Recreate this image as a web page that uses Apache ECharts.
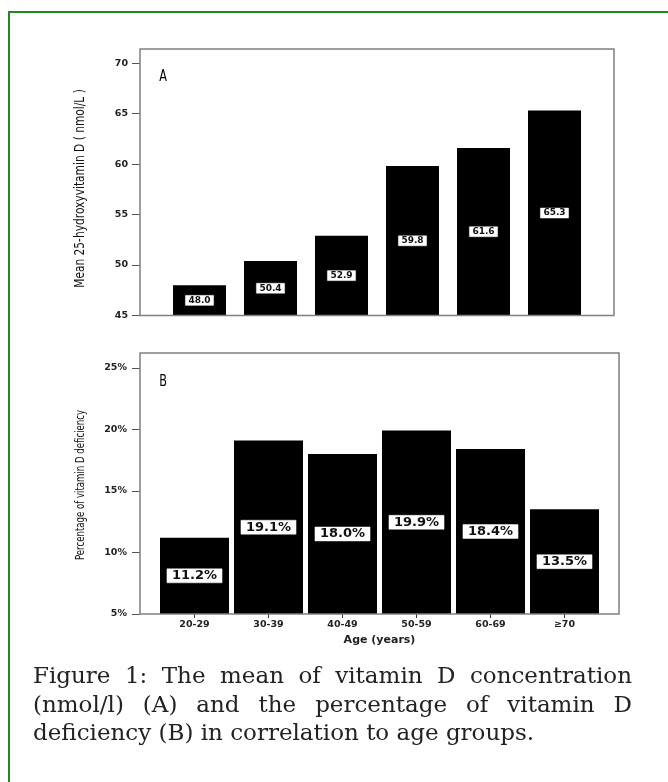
<!DOCTYPE html>
<html>
<head>
	<meta charset="UTF-8" />
	<title>Vitamin D by age group</title>
	<style>
		html, body { margin: 0; padding: 0; background: #fff; }
		#frame {
			position: absolute; left: 8px; top: 11px; width: 700px; height: 800px;
			border-left: 2.5px solid #1c8c1c; border-top: 2.5px solid #1c8c1c;
		}
		#chart { position: absolute; left: 0; top: 0; width: 668px; height: 782px; }
		#caption {
			position: absolute; left: 33px; top: 661px; width: 599px; margin: 0;
			font-family: "DejaVu Serif", serif; font-size: 23px; line-height: 28.5px;
			color: #222; white-space: nowrap;
		}
		#caption span { display: block; }
		#caption .full { text-align: justify; text-align-last: justify; }
	</style>
</head>
<body>
	<div id="frame"></div>
	<div id="chart"></div>
	<p id="caption"><span class="full">Figure 1: The mean of vitamin D concentration</span><span class="full">(nmol/l) (A) and the percentage of vitamin D</span><span>deficiency (B) in correlation to age groups.</span></p>
	<script src="https://cdn.jsdelivr.net/npm/echarts@6/dist/echarts.min.js"></script>
	<script>
		// age groups (x axis of both panels)
		const ageGroups = ["20-29", "30-39", "40-49", "50-59", "60-69", "\u226570"];
		// panel A: mean 25-hydroxyvitamin D (nmol/L)
		const meanVitD = [48.0, 50.4, 52.9, 59.8, 61.6, 65.3];
		const ticksA = [45, 50, 55, 60, 65, 70];
		// panel B: percentage of vitamin D deficiency
		const pctDeficiency = [11.2, 19.1, 18.0, 19.9, 18.4, 13.5];
		const ticksB = [5, 10, 15, 20, 25];

		const chart = echarts.init(document.getElementById("chart"));

		const boldFont = "DejaVu Sans";
		const tickFont = { fontFamily: boldFont, fontWeight: "bold", fontSize: 9.5, color: "#222" };

		// rotated, horizontally squeezed text to mimic the condensed face of the original
		function sideTitle(text, x, y, size, squeeze) {
			return {
				type: "text", x: x, y: y, rotation: Math.PI / 2, scaleX: squeeze,
				style: { text: text, font: size + "px 'DejaVu Sans'", fill: "#111", align: "center", verticalAlign: "middle" }
			};
		}
		function panelLetter(text, x, y) {
			return {
				type: "text", x: x, y: y, scaleX: 0.75,
				style: { text: text, font: "15px 'DejaVu Sans'", fill: "#000", align: "center", verticalAlign: "middle" }
			};
		}

		chart.setOption({
			animation: false,
			grid: [
				{ left: 164, top: 49, width: 426, height: 266.5 },
				{ left: 157.5, top: 353, width: 444, height: 261 }
			],
			xAxis: [
				{
					gridIndex: 0, type: "category", data: ageGroups,
					axisLine: { show: false }, axisTick: { show: false }, axisLabel: { show: false }
				},
				{
					gridIndex: 1, type: "category", data: ageGroups,
					axisLine: { show: false },
					axisTick: { show: true, alignWithLabel: true, length: 4, lineStyle: { color: "#333" } },
					axisLabel: Object.assign({ margin: 6 }, tickFont),
					name: "Age (years)", nameLocation: "middle", nameGap: 21,
					nameTextStyle: { fontFamily: boldFont, fontWeight: "bold", fontSize: 11, color: "#222" }
				}
			],
			yAxis: [
				{
					gridIndex: 0, type: "value", min: 45, max: 71.4, offset: 24,
					splitLine: { show: false }, axisLine: { show: false },
					axisTick: { show: true, length: 8, customValues: ticksA, lineStyle: { color: "#555" } },
					axisLabel: Object.assign({ margin: 12, customValues: ticksA }, tickFont)
				},
				{
					gridIndex: 1, type: "value", min: 5, max: 26.2, offset: 17.5,
					splitLine: { show: false }, axisLine: { show: false },
					axisTick: { show: true, length: 8, customValues: ticksB, lineStyle: { color: "#555" } },
					axisLabel: Object.assign({ margin: 13, customValues: ticksB, formatter: "{value}%" }, tickFont)
				}
			],
			graphic: [
				{ type: "rect", shape: { x: 140, y: 49, width: 474, height: 266.5 }, style: { fill: null, stroke: "#808080", lineWidth: 1.5 }, z: 100 },
				{ type: "rect", shape: { x: 140, y: 353, width: 479, height: 261 }, style: { fill: null, stroke: "#808080", lineWidth: 1.5 }, z: 100 },
				sideTitle("Mean 25-hydroxyvitamin D ( nmol/L )", 80, 188.5, 14, 0.76),
				sideTitle("Percentage of vitamin D deficiency", 81, 485, 13, 0.66),
				panelLetter("A", 163, 77),
				panelLetter("B", 163, 382)
			],
			series: [
				{
					type: "bar", xAxisIndex: 0, yAxisIndex: 0, data: meanVitD, barWidth: 53,
					itemStyle: { color: "#000" },
					label: {
						show: true, position: "inside", color: "#111",
						fontFamily: boldFont, fontWeight: "bold", fontSize: 9,
						backgroundColor: "#fff", borderColor: "#777", borderWidth: 0.5, padding: [1, 3, 0, 3],
						formatter: p => p.value.toFixed(1)
					}
				},
				{
					type: "bar", xAxisIndex: 1, yAxisIndex: 1, data: pctDeficiency, barWidth: 69,
					itemStyle: { color: "#000" },
					label: {
						show: true, position: "inside", color: "#111",
						fontFamily: boldFont, fontWeight: "bold", fontSize: 13,
						backgroundColor: "#fff", borderColor: "#777", borderWidth: 0.5, padding: [1, 5, 0, 5],
						formatter: p => p.value.toFixed(1) + "%"
					}
				}
			]
		});
	</script>
</body>
</html>
